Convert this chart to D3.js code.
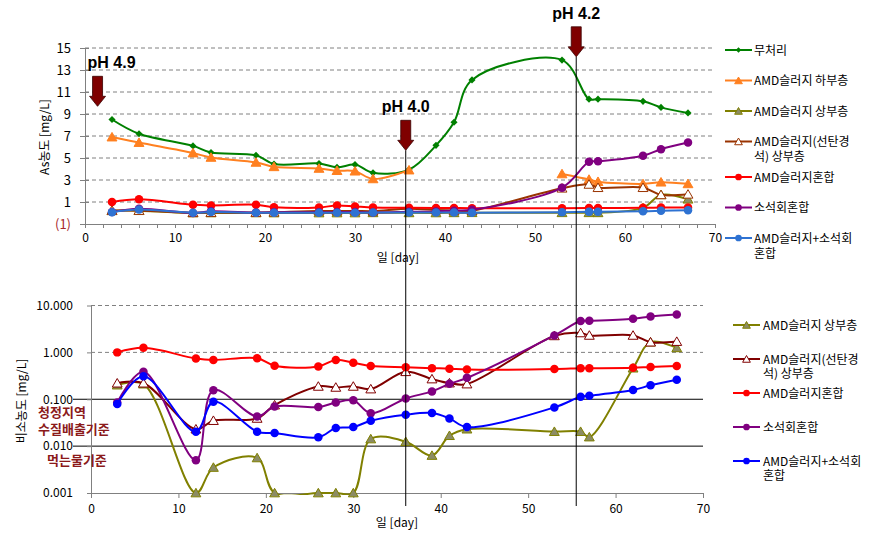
<!DOCTYPE html>
<html><head><meta charset="utf-8">
<script src="https://cdn.jsdelivr.net/npm/d3@7/dist/d3.min.js"></script>
<style>body{margin:0;background:#fff}svg{display:block}</style>
</head><body><svg id="c" width="884" height="553"></svg>
<script>
// ---------------- data ----------------
const days = [3,6,12,14,19,21,26,28,30,32,36,39,41,43,53,56,57,62,64,67];
const noTreat        = [8.5,7.2,6.1,5.5,5.25,4.45,4.5,4.15,4.4,3.65,3.95,6.15,8.25,12.1,13.9,10.35,10.35,10.15,9.6,9.1];
const sludgeLower    = [6.9,6.4,5.45,5.05,4.6,4.2,4.05,3.85,3.8,3.1,3.9,null,null,null,3.55,3.05,2.85,2.65,2.8,2.65];
const sludgeUpper    = [0.2,0.21,0.001,0.0035,0.0056,0.001,0.001,0.001,0.001,0.0142,0.0124,0.0063,0.0167,0.023,0.0204,0.0204,0.0156,0.46,1.65,1.25];
const sludgeCoalUpper= [0.22,0.22,0.023,0.035,0.039,0.075,0.188,0.179,0.188,0.165,0.386,0.27,0.221,0.211,2.25,2.6,2.3,2.3,1.65,1.7];
const sludgeMix      = [1.0,1.25,0.74,0.69,0.75,0.52,0.5,0.69,0.6,0.51,0.48,0.46,0.45,0.43,0.44,0.46,0.46,0.47,0.49,0.51];
const limeMix        = [0.085,0.385,0.005,0.156,0.043,0.07,0.068,0.085,0.095,0.05,0.104,0.147,0.213,0.286,2.3,4.65,4.7,5.2,5.8,6.4];
const sludgeLimeMix  = [0.079,0.308,0.0203,0.0885,0.0203,0.019,0.0154,0.0243,0.0255,0.0348,0.0468,0.0508,0.039,0.0255,0.067,0.113,0.119,0.157,0.198,0.26];

const seriesNames = ["무처리","AMD슬러지 하부층","AMD슬러지 상부층","AMD슬러지(선탄경석) 상부층","AMD슬러지혼합","소석회혼합","AMD슬러지+소석회 혼합"];
const legendLines = [["무처리"],["AMD슬러지  하부층"],["AMD슬러지  상부층"],["AMD슬러지(선탄경","석) 상부층"],["AMD슬러지혼합"],["소석회혼합"],["AMD슬러지+소석회","혼합"]];
const seriesValues = [noTreat,sludgeLower,sludgeUpper,sludgeCoalUpper,sludgeMix,limeMix,sludgeLimeMix];
const topSeries = [0,1,2,3,4,5,6];
const bottomSeries = [2,3,4,5,6];

const xTickValues = [0,10,20,30,40,50,60,70];
const topYTicks = [-1,1,3,5,7,9,11,13,15];
const topYLabels = ["(1)","1","3","5","7","9","11","13","15"];
const bottomYTicks = [0.001,0.01,0.1,1,10];
const bottomYLabels = ["0.001","0.010","0.100","1.000","10.000"];

// pH annotations: day on the lower chart's axis, arrow tip in upper-chart units
const phLabels = ["pH 4.9","pH 4.0","pH 4.2"];
const phDays = [0.75,36,55.5];
const phTips = [9.7,5.7,14.2];
const phHasLine = [false,true,true];

const standardValues = [0.1,0.01];
const standardTexts = [["청정지역","수질배출기준"],["먹는물기준"]];

// ---------------- styles ----------------
const FONT = '"Noto Sans CJK KR","Noto Sans",sans-serif';
const topStyle = [
  {color:"#008000", sym:"diamond", fill:"#008000"},
  {color:"#FF8020", sym:"triangle", fill:"#FF8020"},
  {color:"#808000", sym:"triangle", fill:"#8c8c64"},
  {color:"#993300", sym:"triangle", fill:"#ffffff"},
  {color:"#FF0000", sym:"circle", fill:"#FF0000"},
  {color:"#800080", sym:"circle", fill:"#800080"},
  {color:"#2E72D2", sym:"circle", fill:"#2E72D2"}
];
const bottomStyle = {
  2:{color:"#808000", sym:"triangle", fill:"#8c8c64"},
  3:{color:"#800000", sym:"triangle", fill:"#ffffff"},
  4:{color:"#FF0000", sym:"circle", fill:"#FF0000"},
  5:{color:"#800080", sym:"circle", fill:"#800080"},
  6:{color:"#0000FF", sym:"circle", fill:"#0000FF"}
};

const svg = d3.select("#c");
svg.append("rect").attr("width",884).attr("height",553).attr("fill","#fff");

// scales
const xT = d3.scaleLinear().domain([0,70]).range([85,715]);
const yT = d3.scaleLinear().domain([-1,15]).range([224,48]);
const xB = d3.scaleLinear().domain([0,70]).range([91,703]);
const yB = d3.scaleLog().domain([0.001,10]).range([493,305.5]);

function symPath(type, size){
  if(type==="circle") return d3.symbol(d3.symbolCircle, size*1.35)();
  if(type==="triangle") return d3.symbol(d3.symbolTriangle, size)();
  return d3.symbol(d3.symbolSquare, size*0.6)();
}
function drawMarker(g, st, x, y, size){
  const p = g.append("path").attr("d", symPath(st.sym,size))
    .attr("fill", st.fill).attr("stroke", st.sym==="triangle" ? st.color : "none")
    .attr("stroke-width", st.sym==="triangle" ? 1 : 0);
  if(st.sym==="diamond") p.attr("transform",`translate(${x},${y}) rotate(45)`);
  else if(st.sym==="triangle") p.attr("transform",`translate(${x},${y+1})`);
  else p.attr("transform",`translate(${x},${y})`);
}
function styleAxis(g, size){
  g.attr("font-family",FONT).attr("font-size",size);
  g.select(".domain").attr("stroke","#808080");
  g.selectAll(".tick line").attr("stroke","#808080");
  g.selectAll(".tick text").attr("fill","#000");
}
function multiText(g, x, y, lines, lh){
  const t = g.append("text").attr("x",x).attr("y",y);
  lines.forEach((s,j)=>t.append("tspan").attr("x",x).attr("dy", j===0 ? 0 : lh).text(s));
  return t;
}

// ================= TOP CHART =================
const topG = svg.append("g");
topG.append("g").selectAll("line").data(topYTicks.filter(d=>d>-1)).join("line")
  .attr("x1",xT(0)).attr("x2",xT(70)-3).attr("y1",d=>yT(d)).attr("y2",d=>yT(d))
  .attr("stroke","#808080").attr("stroke-dasharray","4,3");
const gxT = topG.append("g").attr("transform",`translate(0,${yT(-1)})`)
  .call(d3.axisBottom(xT).tickValues(d3.range(0,71,2)).tickSizeInner(4).tickSizeOuter(0).tickPadding(5)
    .tickFormat(d=> xTickValues.includes(d) ? d : ""));
styleAxis(gxT,12);
const gyT = topG.append("g").attr("transform",`translate(${xT(0)},0)`)
  .call(d3.axisLeft(yT).tickValues(topYTicks).tickSizeInner(5).tickSizeOuter(0).tickPadding(9)
    .tickFormat((d,i)=>topYLabels[i]));
styleAxis(gyT,13);
gyT.selectAll(".tick").append("line").attr("x1",0).attr("x2",4).attr("stroke","#808080");
gyT.selectAll(".tick text").filter(d=>d===-1).attr("fill","#A8282D");

topG.append("text").attr("transform",`translate(49,137) rotate(-90)`).attr("text-anchor","middle")
  .attr("font-family",FONT).attr("font-size",12).text("As농도 [mg/L]");
topG.append("text").attr("x",398).attr("y",262).attr("text-anchor","middle")
  .attr("font-family",FONT).attr("font-size",12).text("일  [day]");

const lineT = d3.line().defined(d=>d.v!=null).x(d=>xT(d.d)).y(d=>yT(d.v)).curve(d3.curveCatmullRom.alpha(0.5));
topSeries.forEach(si=>{
  const st = topStyle[si];
  const pts = days.map((d,i)=>({d, v:seriesValues[si][i]}));
  topG.append("path").datum(pts).attr("d",lineT).attr("fill","none")
    .attr("stroke",st.color).attr("stroke-width",2);
  const mg = topG.append("g");
  pts.filter(p=>p.v!=null).forEach(p=>drawMarker(mg, st, xT(p.d), yT(p.v), 42));
});

const legT = topG.append("g").attr("font-family",FONT).attr("font-size",12);
topSeries.forEach((si,k)=>{
  const st = topStyle[si];
  const y = 50 + k*30.5 + (k>3?5:0);
  legT.append("line").attr("x1",725).attr("x2",752).attr("y1",y).attr("y2",y).attr("stroke",st.color).attr("stroke-width",2);
  drawMarker(legT, st, 738.5, y, 26);
  multiText(legT, 754, y+4.5, legendLines[si], 15);
});

// ================= BOTTOM CHART =================
const botG = svg.append("g");
botG.append("defs").append("clipPath").attr("id","clipB").append("rect")
  .attr("x",xB(0)).attr("y",yB(10)-10).attr("width",xB(70)-xB(0)).attr("height",yB(0.001)-yB(10)+12);
botG.append("g").selectAll("line").data([1,10]).join("line")
  .attr("x1",xB(0)).attr("x2",xB(70)).attr("y1",d=>yB(d)).attr("y2",d=>yB(d))
  .attr("stroke","#808080").attr("stroke-dasharray","4,3");
botG.append("g").selectAll("line").data(standardValues).join("line")
  .attr("x1",xB(0)-18).attr("x2",xB(70)).attr("y1",d=>yB(d)).attr("y2",d=>yB(d))
  .attr("stroke","#000").attr("stroke-width",1);

const gxB = botG.append("g").attr("transform",`translate(0,${yB(0.001)})`)
  .call(d3.axisBottom(xB).tickValues(xTickValues).tickSizeInner(5).tickSizeOuter(0).tickPadding(6));
styleAxis(gxB,12);
const gyB = botG.append("g").attr("transform",`translate(${xB(0)},0)`)
  .call(d3.axisLeft(yB).tickValues(bottomYTicks).tickSizeInner(4).tickSizeOuter(0).tickPadding(14)
    .tickFormat(d=>bottomYLabels[bottomYTicks.indexOf(d)]));
styleAxis(gyB,12);

botG.append("text").attr("transform",`translate(26,401) rotate(-90)`).attr("text-anchor","middle")
  .attr("font-family",FONT).attr("font-size",12).text("비소농도 [mg/L]");
botG.append("text").attr("x",397).attr("y",527).attr("text-anchor","middle")
  .attr("font-family",FONT).attr("font-size",12).text("일 [day]");

const stdG = botG.append("g").attr("font-family",FONT).attr("font-size",13)
  .attr("font-weight","bold").attr("fill","#8B1A1A");
standardTexts.forEach((lines,k)=>{
  const y0 = yB(standardValues[k]);
  multiText(stdG, k===0 ? 38 : 47, y0 + (k===0 ? 18 : 19), lines, 17);
});

const lineB = d3.line().x(d=>xB(d.d)).y(d=>yB(d.v)).curve(d3.curveCatmullRom.alpha(0.5));
bottomSeries.forEach(si=>{
  const st = bottomStyle[si];
  const pts = days.map((d,i)=>({d, v:seriesValues[si][i]})).filter(p=>p.v!=null);
  botG.append("path").datum(pts).attr("d",lineB).attr("fill","none").attr("clip-path","url(#clipB)")
    .attr("stroke",st.color).attr("stroke-width",2);
  const mg = botG.append("g");
  pts.forEach(p=>drawMarker(mg, st, xB(p.d), yB(p.v), 42));
});

const legB = botG.append("g").attr("font-family",FONT).attr("font-size",12);
bottomSeries.forEach((si,k)=>{
  const st = bottomStyle[si];
  const y = 325 + k*34;
  legB.append("line").attr("x1",733).attr("x2",760).attr("y1",y).attr("y2",y).attr("stroke",st.color).attr("stroke-width",2);
  drawMarker(legB, st, 746.5, y, 26);
  multiText(legB, 763, y+4.5, legendLines[si], 14);
});

// ================= pH annotations =================
const ann = svg.append("g");
phLabels.forEach((lab,i)=>{
  const x = xB(phDays[i]);
  const tip = yT(phTips[i]);
  if(phHasLine[i]){
    ann.append("line").attr("x1",x).attr("x2",x).attr("y1",tip).attr("y2",yB(0.001)+13)
      .attr("stroke","#000").attr("stroke-width",1);
  }
  const t0 = tip-30, hb = tip-10;
  ann.append("path").attr("d",`M${x-5},${t0}L${x+5},${t0}L${x+5},${hb}L${x+8},${hb}L${x},${tip}L${x-8},${hb}L${x-5},${hb}Z`)
    .attr("fill","#7F0000").attr("stroke","#3a0000").attr("stroke-width",0.8);
  ann.append("text").attr("x", i===0 ? x-10 : x).attr("y",t0-8)
    .attr("text-anchor", i===0 ? "start" : "middle")
    .attr("font-family","Liberation Sans, Arial, sans-serif").attr("font-size",16).attr("font-weight","bold")
    .text(lab);
});
</script></body></html>
